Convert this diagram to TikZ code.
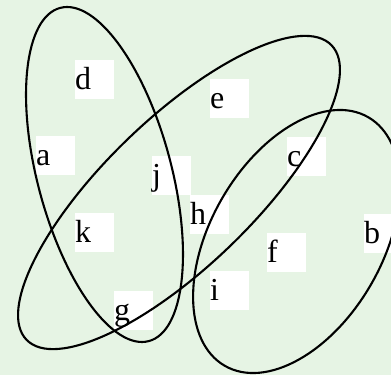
\documentclass[tikz,border=0pt]{standalone}
\usepackage{fontspec}
\setmainfont{Liberation Serif}
\usepackage{tikz}
\definecolor{bgGreen}{RGB}{230,244,228}

\begin{document}
\begin{tikzpicture}[
x=1pt, y=1pt,
letter/.style={fill=white, anchor=north west, inner sep=0pt, text width=39pt, align=left, text height=29pt, text depth=10pt, font=\fontsize{32}{32}\selectfont},
set/.style={draw=black, line width=2.1pt}
]
\fill[bgGreen] (0,0) rectangle (391,375);
\useasboundingbox (0,0) rectangle (391,375);
\clip (0,0) rectangle (391,375);
% labels
\node[letter] (d) at (75,315) {d};
\node[letter] (a) at (36,239) {a};
\node[letter] (j) at (152,219) {j};
\node[letter] (e) at (210,296) {e};
\node[letter] (c) at (287,238) {c};
\node[letter] (k) at (75,162) {k};
\node[letter] (g) at (114,84) {g};
\node[letter] (h) at (190,180) {h};
\node[letter] (f) at (267,142) {f};
\node[letter] (i) at (210,104) {i};
\node[letter] (b) at (364,161) {b};
% sets
\draw[set] (104.5,200.5) ellipse[x radius=67, y radius=172.4, rotate=14.9];
\draw[set] (179,182.5) ellipse[x radius=212, y radius=74, rotate=44];
\draw[set] (296.5,133.5) ellipse[x radius=143.5, y radius=86, rotate=60];
\end{tikzpicture}
\end{document}
